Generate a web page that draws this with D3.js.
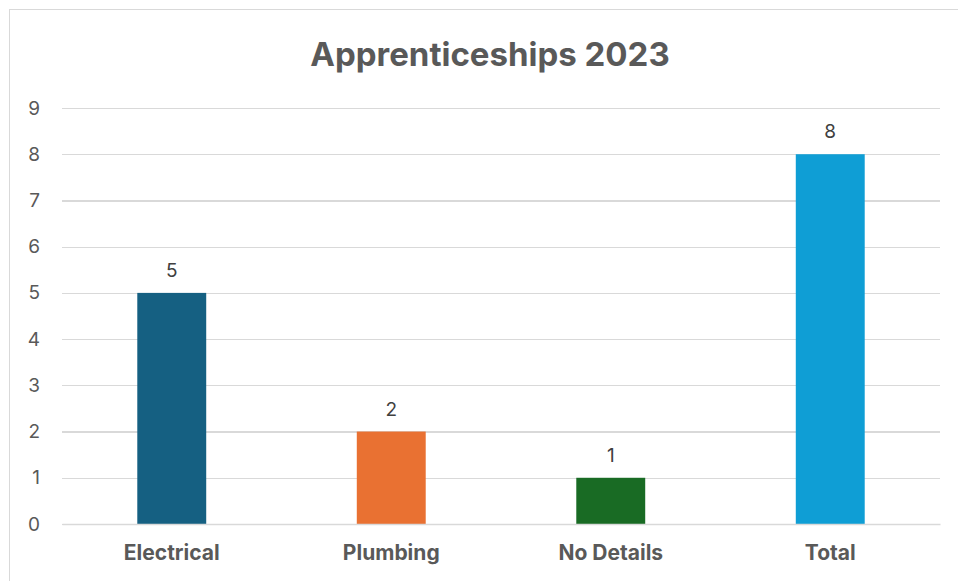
<!DOCTYPE html>
<html>
<head>
<meta charset="utf-8">
<title>Apprenticeships 2023</title>
<script src="https://cdn.jsdelivr.net/npm/d3@7"></script>
<style>
body { margin: 0; background: #fff; font-family: Inter, "Open Sans", sans-serif; }
.grid line { stroke: #d9d9d9; stroke-width: 1.3; shape-rendering: crispEdges; }
.grid .domain { display: none; }
.axis--y .domain, .axis--y line { display: none; }
.axis--x .domain { stroke: #d9d9d9; stroke-width: 1.5; }
.axis--x line { display: none; }
.axis text { fill: #595959; font-family: Inter, "Open Sans", sans-serif; }
</style>
</head>
<body>
<div class="content"></div>
<script>
var categories = ["Electrical", "Plumbing", "No Details", "Total"];
var values = [5, 2, 1, 8];
var colors = ["#156082", "#E97132", "#196B24", "#0F9ED5"];
var yTicks = [0, 1, 2, 3, 4, 5, 6, 7, 8, 9];

var W = 958, H = 581;
var margin = { top: 108, right: 18, bottom: 57, left: 62 };
var width = W - margin.left - margin.right,
    height = H - margin.top - margin.bottom;

var svg = d3.select(".content").append("svg")
    .attr("width", W).attr("height", H);

// chart frame
svg.append("rect")
    .attr("x", 9.5).attr("y", 9.5)
    .attr("width", W).attr("height", H)
    .attr("fill", "none").attr("stroke", "#d9d9d9").attr("stroke-width", 1);

svg.append("text")
    .attr("x", 490).attr("y", 66)
    .attr("text-anchor", "middle")
    .style("font-size", "33px").style("font-weight", "bold")
    .style("fill", "#595959")
    .text("Apprenticeships 2023");

var g = svg.append("g")
    .attr("transform", "translate(" + margin.left + "," + margin.top + ")");

var x = d3.scaleBand().domain(categories).range([0, width]).paddingInner(0.686).paddingOuter(0.343);
var y = d3.scaleLinear().domain([0, 9]).range([height, 0]);

g.append("g")
    .attr("class", "grid")
    .call(d3.axisLeft(y).tickValues(yTicks).tickSize(-width).tickFormat(""));

g.append("g")
    .attr("class", "axis axis--y")
    .call(d3.axisLeft(y).tickValues(yTicks).tickSize(0).tickPadding(22))
    .selectAll("text").style("font-size", "19px");

g.selectAll(".bar")
    .data(values)
  .enter().append("rect")
    .attr("class", "bar")
    .attr("x", function (d, i) { return x(categories[i]); })
    .attr("y", function (d) { return y(d); })
    .attr("width", x.bandwidth())
    .attr("height", function (d) { return height - y(d); })
    .attr("fill", function (d, i) { return colors[i]; });

g.append("g")
    .attr("class", "axis axis--x")
    .attr("transform", "translate(0," + height + ")")
    .call(d3.axisBottom(x).tickSize(0).tickPadding(21))
    .selectAll("text").style("font-size", "21px").style("font-weight", "bold");

g.selectAll(".label")
    .data(values)
  .enter().append("text")
    .attr("class", "label")
    .attr("x", function (d, i) { return x(categories[i]) + x.bandwidth() / 2; })
    .attr("y", function (d) { return y(d) - 16; })
    .attr("text-anchor", "middle")
    .style("font-size", "19px").style("fill", "#404040")
    .text(function (d) { return d; });
</script>
</body>
</html>
